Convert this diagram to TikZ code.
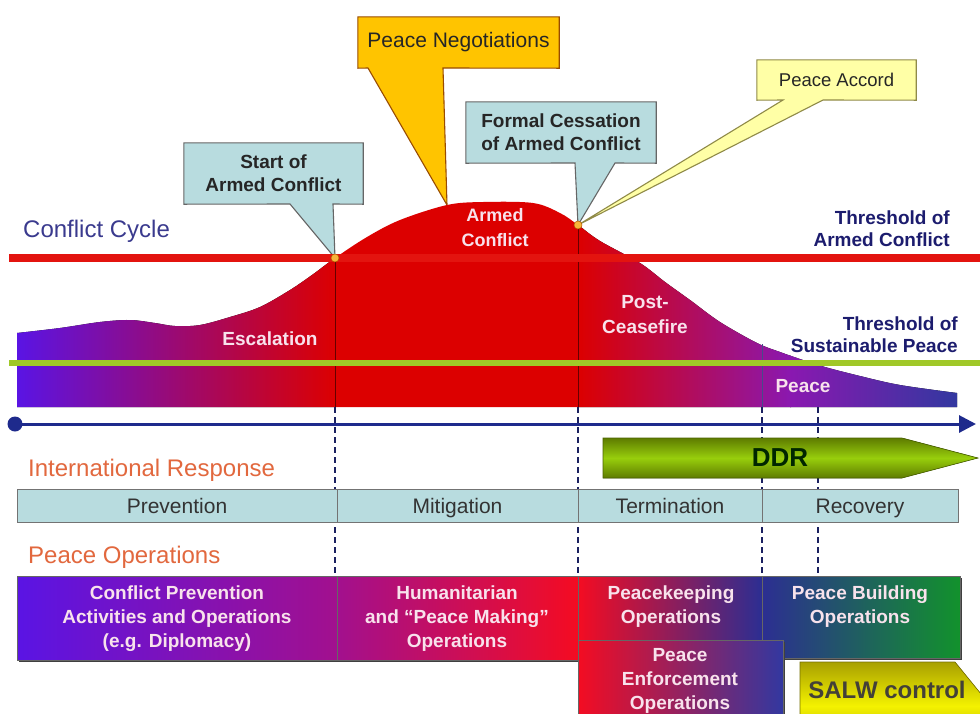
\documentclass[tikz,border=0pt]{standalone}
\usepackage{fontspec}
\setmainfont{Liberation Sans}
\usetikzlibrary{arrows.meta}
\pgfdeclarelayer{background}
\pgfsetlayers{background,main}

\definecolor{thr}{HTML}{E3140F}
\definecolor{grn}{HTML}{A0C828}
\definecolor{axisblue}{HTML}{1E2A8C}
\definecolor{navy}{HTML}{1C1C6E}
\definecolor{cyc}{HTML}{3A3A8E}
\definecolor{orng}{HTML}{E2683E}
\definecolor{lblue}{HTML}{B8DCDF}
\definecolor{gold}{HTML}{FFC400}
\definecolor{lyel}{HTML}{FFFFA6}
\definecolor{violetA}{HTML}{5A14E4}
\definecolor{magA}{HTML}{A2108E}
\definecolor{redA}{HTML}{DC0000}
\definecolor{redB}{HTML}{F40C22}
\definecolor{purpA}{HTML}{8A18B0}
\definecolor{blueA}{HTML}{3238A0}
\definecolor{navyB}{HTML}{2C2E92}
\definecolor{greenA}{HTML}{12922C}
\definecolor{ddrdark}{HTML}{5E7C00}
\definecolor{ddrlight}{HTML}{98CE0C}
\definecolor{yelA}{HTML}{F4F200}
\definecolor{yelD}{HTML}{A8A000}
\definecolor{pinkw}{HTML}{F8E2EC}
\definecolor{dashc}{HTML}{1A2060}
\definecolor{dotc}{HTML}{F8B43A}

\tikzset{
  callfill/.style={line width=1.1pt, line join=miter},
  calltext/.style={inner sep=0pt, align=center, font=\fontsize{19}{23}\selectfont\bfseries, text=black!85},
  stripbox/.style={draw=black!55, line width=1pt, fill=lblue, inner sep=0pt, minimum height=33pt,
     text height=19pt, text depth=4pt,
     font=\fontsize{21}{24}\selectfont, text=black!80},
  headlbl/.style={inner sep=0pt, font=\fontsize{24}{28}\selectfont, text=orng},
  navylbl/.style={inner sep=0pt, align=right, font=\fontsize{19}{22}\selectfont\bfseries, text=navy},
  inlbl/.style={inner sep=0pt, align=center, font=\fontsize{19}{25}\selectfont\bfseries, text=pinkw},
  optext/.style={inner sep=0pt, align=center, font=\fontsize{19}{24}\selectfont\bfseries, text=pinkw},
  opbox/.style={inner sep=0pt, draw=black!60, line width=0.8pt},
  dotnode/.style={circle, fill=dotc, draw=orange!70!black, line width=0.5pt, inner sep=0pt, minimum size=8pt},
  vdash/.style={dashc, line width=1.4pt, dash pattern=on 6pt off 4pt},
  vsolid/.style={draw=black!60!red, line width=0.9pt},
}

\begin{document}
\begin{tikzpicture}[x=1pt,y=-1pt]
\useasboundingbox (0,0) rectangle (980,713);
\clip (0,0) rectangle (980,713);
\begin{pgfonlayer}{background}
\fill[white] (0,0) rectangle (980,713);
\end{pgfonlayer}

% ---------- curve ----------
\begin{scope}
\clip plot[smooth, tension=0.55] coordinates {
 (17,333) (60,328) (100,322) (130,320) (155,323) (175,326) (200,325) (230,317) (260,307)
 (290,290) (312,275) (335,258) (367,237) (400,220) (447,205) (483,202) (533,203)
 (560,213) (578,225) (600,241) (640,263) (665,282) (690,300) (720,322) (757,343)
 (780,352) (800,359) (825,367) (860,376) (900,385) (957,393)}
 -- (957,407) -- (17,407) -- cycle;
\fill[left color=violetA, right color=redA] (17,190) rectangle (336,410);
\fill[redA] (335,190) rectangle (579,410);
\fill[left color=redA, right color=purpA] (578,190) rectangle (791,410);
\fill[left color=purpA, right color=blueA] (790,190) rectangle (958,410);
\end{scope}

% vertical lines inside curve
\coordinate (tipA) at (335,258);
\coordinate (tipN) at (447,205);
\coordinate (tipF) at (578,225);
\coordinate (vA) at (335,407);
\coordinate (vF) at (578,407);
\coordinate (vPt) at (762,344);
\coordinate (vP) at (762,407);
\draw[vsolid] (tipA) -- (vA);
\draw[vsolid] (tipF) -- (vF);
\draw[draw=navy!80, line width=0.9pt] (vPt) -- (vP);

% thresholds
\coordinate (rl) at (9,258);
\coordinate (rr) at (980,258);
\coordinate (gl) at (9,363);
\coordinate (gr) at (980,363);
\draw[line width=8pt, thr] (rl) -- (rr);
\draw[line width=6pt, grn] (gl) -- (gr);

% dashed verticals
\coordinate (dA) at (335,576);
\coordinate (dF) at (578,576);
\coordinate (dP) at (762,576);
\coordinate (dQt) at (818,407);
\coordinate (dQ) at (818,576);
\draw[vdash] (vA) -- (dA);
\draw[vdash] (vF) -- (dF);
\draw[vdash] (vP) -- (dP);
\draw[vdash] (dQt) -- (dQ);

% time axis
\coordinate (ax0) at (15,424);
\coordinate (ax1) at (976,424);
\draw[axisblue, line width=3pt, -{Triangle[length=17pt,width=17pt]}] (ax0) -- (ax1);
\fill[axisblue] (ax0) circle (7.5pt);

% ---------- callouts ----------
\node[calltext, minimum width=179pt, minimum height=61pt] (start) at (273.5,173.5) {Start of\\Armed Conflict};
\node[inner sep=0pt, align=center, font=\fontsize{21}{24}\selectfont, text=black!85, minimum width=201pt, minimum height=51pt] (nego) at (458.5,42.5) {Peace Negotiations};
\node[calltext, minimum width=190pt, minimum height=61pt] (formal) at (561,132.5) {Formal Cessation\\of Armed Conflict};
\node[inner sep=0pt, align=center, font=\fontsize{18.5}{22}\selectfont, text=black!85, minimum width=159pt, minimum height=40pt] (accord) at (836.5,80) {Peace Accord};

\begin{pgfonlayer}{background}
\filldraw[callfill, fill=lblue, draw=black!60]
  (start.north west) -- (start.north east) -- (start.south east) -- (333,204) -- (tipA) -- (290,204) -- (start.south west) -- cycle;
\filldraw[callfill, fill=gold, draw=orange!60!black]
  (nego.north west) -- (nego.north east) -- (nego.south east) -- (443,68) -- (tipN) -- (368,68) -- (nego.south west) -- cycle;
\filldraw[callfill, fill=lblue, draw=black!60]
  (formal.north west) -- (formal.north east) -- (formal.south east) -- (615,163) -- (tipF) -- (575,163) -- (formal.south west) -- cycle;
\filldraw[callfill, fill=lyel, draw=yellow!50!black]
  (accord.north west) -- (accord.north east) -- (accord.south east) -- (823,100) -- (tipF) -- (783,100) -- (accord.south west) -- cycle;
\end{pgfonlayer}

\node[dotnode] (dotA) at (tipA) {};
\node[dotnode] (dotF) at (tipF) {};

% ---------- labels ----------
\node[inner sep=0pt, anchor=base west, font=\fontsize{24}{28}\selectfont, text=cyc] (cycle) at (23,237) {Conflict Cycle};
\node[navylbl, anchor=east] (thrA) at (950,229) {Threshold of\\Armed Conflict};
\node[navylbl, anchor=east] (thrS) at (958,335) {Threshold of\\Sustainable Peace};
\node[inlbl] (esc) at (270,339) {Escalation};
\node[inlbl, font=\fontsize{18}{25}\selectfont\bfseries] (arm) at (495,228) {Armed\\Conflict};
\node[inlbl] (post) at (645,315) {Post-\\Ceasefire};
\node[inlbl] (peace) at (803,386) {Peace};

% ---------- International response ----------
\node[headlbl, anchor=base west] (intl) at (28,476) {International Response};
\coordinate (ddr0) at (603,438);
\filldraw[draw=ddrdark!80!black, line width=0.6pt, top color=ddrdark, bottom color=ddrdark, middle color=ddrlight]
  (ddr0) -- (902,438) -- (978,458) -- (902,478) -- (603,478) -- cycle;
\node[inner sep=0pt, font=\fontsize{26}{30}\selectfont\bfseries, text=black!85!green] (ddr) at (780,458) {DDR};

\node[stripbox, minimum width=320pt] (prev) at (177,505.5) {Prevention};
\node[stripbox, minimum width=241pt] (miti) at (457.5,505.5) {Mitigation};
\node[stripbox, minimum width=184pt] (term) at (670,505.5) {Termination};
\node[stripbox, minimum width=196pt] (reco) at (860,505.5) {Recovery};

% ---------- Peace operations ----------
\node[headlbl, anchor=base west] (pops) at (28,563) {Peace Operations};

% shadows
\fill[black!75] (19,578) rectangle (580,662);
\fill[black!75] (764,578) rectangle (962,660);

\node[opbox, left color=violetA, right color=magA, minimum width=320pt, minimum height=84pt] (cpo) at (177,618) {};
\node[opbox, left color=magA, right color=redB, minimum width=241pt, minimum height=84pt] (hum) at (457.5,618) {};
\node[opbox, left color=navyB, right color=greenA, minimum width=198pt, minimum height=82pt] (pbo) at (861,617) {};
\node[opbox, left color=redB, right color=navyB, minimum width=184pt, minimum height=66pt] (pko) at (670,609) {};
\fill[black!75] (580,642) rectangle (785,720);
\node[opbox, left color=redB, right color=blueA, minimum width=205pt, minimum height=80pt] (peo) at (680.5,680) {};

\node[optext] (cpot) at (177,619) {Conflict Prevention\\Activities and Operations\\(e.g. Diplomacy)};
\node[optext] (humt) at (457,619) {Humanitarian\\and “Peace Making”\\Operations};
\node[optext] (pkot) at (671,606.5) {Peacekeeping\\Operations};
\node[optext] (pbot) at (860,606.5) {Peace Building\\Operations};
\node[optext] (peot) at (680,681) {Peace\\Enforcement\\Operations};

\coordinate (salw0) at (800,662);
\filldraw[draw=yelD!70!black, line width=0.6pt, top color=yelD, bottom color=yelD, middle color=yelA]
  (salw0) -- (955,662) -- (990,705) -- (955,750) -- (800,750) -- cycle;
\node[inner sep=0pt, font=\fontsize{24}{28}\selectfont\bfseries, text=black!85!yellow] (salw) at (887,690) {SALW control};

\end{tikzpicture}
\end{document}
